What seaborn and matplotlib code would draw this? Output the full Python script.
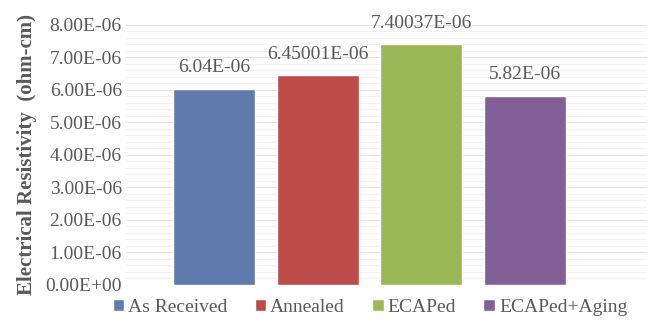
import matplotlib
matplotlib.use("Agg")
import matplotlib.pyplot as plt
from matplotlib.ticker import FuncFormatter, MultipleLocator
import seaborn as sns
import pandas as pd

# Resistivity per processing condition
conditions = ["As Received", "Annealed", "ECAPed", "ECAPed+Aging"]
resistivity = [6.04e-06, 6.45001e-06, 7.40037e-06, 5.82e-06]
value_labels = ["6.04E-06", "6.45001E-06", "7.40037E-06", "5.82E-06"]
bar_colors = ["#5f7aad", "#bd4c48", "#9bb856", "#825f96"]

df = pd.DataFrame({"condition": conditions, "resistivity": resistivity})

sns.set_theme(style="white")
plt.rcParams["font.family"] = ["Liberation Serif", "DejaVu Serif"]
text_color = "#595959"

fig = plt.figure(figsize=(6.57, 3.28), dpi=100)
ax = fig.add_axes([0.1918, 0.1326, 0.7930, 0.7912])

sns.barplot(data=df, x="condition", y="resistivity", hue="condition",
            palette=bar_colors, width=0.79, saturation=1, ax=ax,
            legend=True, zorder=3)

for container, lab in zip(ax.containers, value_labels):
    ax.bar_label(container, labels=[lab], padding=9, fontsize=14,
                 color=text_color)

ax.set_ylim(0, 8e-06)
ax.set_xlim(-0.849, 4.176)
ax.yaxis.set_major_locator(MultipleLocator(1e-06))
ax.yaxis.set_minor_locator(MultipleLocator(0.2e-06))
ax.yaxis.set_major_formatter(FuncFormatter(lambda v, p: f"{v:.2E}"))
ax.grid(axis="y", which="major", color="#e3e3e3", linewidth=0.8, zorder=0)
ax.grid(axis="y", which="minor", color="#f2f2f2", linewidth=0.8, zorder=0)
ax.set_axisbelow(True)
ax.set_xticks([])
ax.set_xlabel("")
ax.set_ylabel("Electrical Resistivity  (ohm-cm)", fontsize=15,
              fontweight="bold", color=text_color, labelpad=6)
ax.tick_params(axis="y", which="both", length=0, pad=3, labelsize=14,
               labelcolor=text_color)
for s in ax.spines.values():
    s.set_visible(False)

handles, labels = ax.get_legend_handles_labels()
ax.get_legend().remove()
fig.legend(handles, labels, loc="center", bbox_to_anchor=(0.563, 0.062),
           ncol=4, frameon=False, fontsize=14, labelcolor=text_color,
           handlelength=0.6, handleheight=0.6, handletextpad=0.2,
           columnspacing=1.4)

fig.savefig("out.png", dpi=100)
